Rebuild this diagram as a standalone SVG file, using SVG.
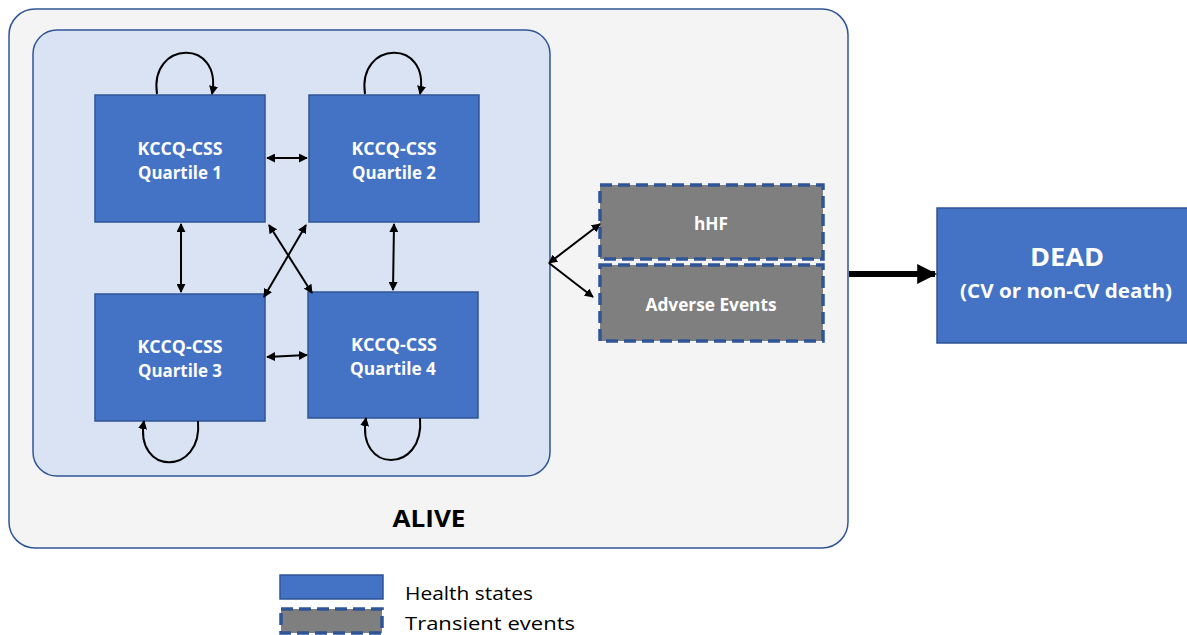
<svg xmlns="http://www.w3.org/2000/svg" width="1187" height="635" viewBox="0 0 1187 635">
<defs>
<marker id="ah" viewBox="0 0 10 10" refX="9" refY="5" markerWidth="9" markerHeight="9" markerUnits="userSpaceOnUse" orient="auto-start-reverse"><path d="M0,0 L10,5 L0,10 z" fill="#000"/></marker>
<marker id="big" viewBox="0 0 10 10" refX="9" refY="5" markerWidth="3.5" markerHeight="3.3" orient="auto"><path d="M0,0 L10,5 L0,10 z" fill="#000"/></marker>
</defs>
<style>
.state{fill:#4472c4;stroke:#2f5597;stroke-width:1.5}
.trans{fill:#7f7f7f;stroke:#2f5597;stroke-width:3.5;stroke-dasharray:12 6}
.lbl{font-family:"Open Sans","Liberation Sans",Arial,sans-serif;font-weight:bold;fill:#fff;text-anchor:middle}
.c{fill:none;stroke:#000;stroke-width:2}
.leg{font-family:"Open Sans","Liberation Sans",Arial,sans-serif;font-size:18px;fill:#000}
</style>
<rect width="1187" height="635" fill="#fff"/>
<g id="alive">
<rect x="9" y="9" width="839" height="539" rx="26" fill="#f4f4f4" stroke="#2f5597" stroke-width="1.5"/>
<text x="429" y="527" font-family="Open Sans,Liberation Sans,Arial,sans-serif" font-weight="bold" font-size="22.5" text-anchor="middle" textLength="73" lengthAdjust="spacingAndGlyphs">ALIVE</text>
</g>
<g id="inner">
<rect x="33" y="30" width="517" height="446" rx="24" fill="#dae3f3" stroke="#2f5597" stroke-width="1.5"/>
</g>
<g id="q1"><rect class="state" x="95" y="95" width="170" height="127"/><text class="lbl" font-size="18.5" x="180" y="155" textLength="85" lengthAdjust="spacingAndGlyphs">KCCQ-CSS</text><text class="lbl" font-size="18.5" x="180" y="179" textLength="84" lengthAdjust="spacingAndGlyphs">Quartile 1</text></g>
<g id="q2"><rect class="state" x="309" y="95" width="170" height="127"/><text class="lbl" font-size="18.5" x="394" y="155" textLength="85" lengthAdjust="spacingAndGlyphs">KCCQ-CSS</text><text class="lbl" font-size="18.5" x="394" y="179" textLength="84" lengthAdjust="spacingAndGlyphs">Quartile 2</text></g>
<g id="q3"><rect class="state" x="95" y="294" width="170" height="127"/><text class="lbl" font-size="18.5" x="180" y="353" textLength="85" lengthAdjust="spacingAndGlyphs">KCCQ-CSS</text><text class="lbl" font-size="18.5" x="180" y="377" textLength="84" lengthAdjust="spacingAndGlyphs">Quartile 3</text></g>
<g id="q4"><rect class="state" x="308" y="292" width="170" height="126"/><text class="lbl" font-size="18.5" x="394" y="351" textLength="86" lengthAdjust="spacingAndGlyphs">KCCQ-CSS</text><text class="lbl" font-size="18.5" x="393" y="375" textLength="86" lengthAdjust="spacingAndGlyphs">Quartile 4</text></g>
<g id="hhf"><rect class="trans" x="600" y="185" width="223" height="74"/><text class="lbl" font-size="17.5" x="711" y="230" textLength="34" lengthAdjust="spacingAndGlyphs">hHF</text></g>
<g id="ae"><rect class="trans" x="600" y="265" width="223" height="76"/><text class="lbl" font-size="17.5" x="711" y="311" textLength="131" lengthAdjust="spacingAndGlyphs">Adverse Events</text></g>
<g id="dead"><rect class="state" x="937" y="208" width="260" height="135"/><text class="lbl" font-size="25" x="1067" y="266" textLength="74" lengthAdjust="spacingAndGlyphs">DEAD</text><text class="lbl" font-size="20" x="1066" y="298" textLength="212" lengthAdjust="spacingAndGlyphs">(CV or non-CV death)</text></g>
<g id="connectors">
<path class="c" d="M157,94 C149,40 223,38 212,94" marker-end="url(#ah)"/>
<path class="c" d="M365,94 C357,40 431,38 420,94" marker-end="url(#ah)"/>
<path class="c" d="M198,421 C203,476 134,476 144,421" marker-end="url(#ah)"/>
<path class="c" d="M420,418 C425,474 356,474 366,418" marker-end="url(#ah)"/>
<line class="c" x1="267" y1="158" x2="307" y2="158" marker-start="url(#ah)" marker-end="url(#ah)"/>
<line class="c" x1="267" y1="357" x2="307" y2="355" marker-start="url(#ah)" marker-end="url(#ah)"/>
<line class="c" x1="181" y1="224" x2="181" y2="292" marker-start="url(#ah)" marker-end="url(#ah)"/>
<line class="c" x1="394" y1="224" x2="393" y2="290" marker-start="url(#ah)" marker-end="url(#ah)"/>
<line class="c" x1="269" y1="225" x2="312" y2="293" marker-start="url(#ah)" marker-end="url(#ah)"/>
<line class="c" x1="306" y1="225" x2="264" y2="297" marker-start="url(#ah)" marker-end="url(#ah)"/>
<line class="c" x1="549" y1="263" x2="600" y2="224" marker-start="url(#ah)" marker-end="url(#ah)"/>
<line class="c" x1="549" y1="263" x2="593" y2="297" marker-end="url(#ah)"/>
<line x1="849" y1="274" x2="935" y2="274" stroke="#000" stroke-width="6" marker-end="url(#big)"/>
</g>
<g id="legend">
<rect class="state" x="280" y="575" width="103" height="24"/>
<rect class="trans" x="281" y="609" width="101" height="24"/>
<text class="leg" x="405" y="600" textLength="128" lengthAdjust="spacingAndGlyphs">Health states</text>
<text class="leg" x="405" y="630" textLength="170" lengthAdjust="spacingAndGlyphs">Transient events</text>
</g>
</svg>
